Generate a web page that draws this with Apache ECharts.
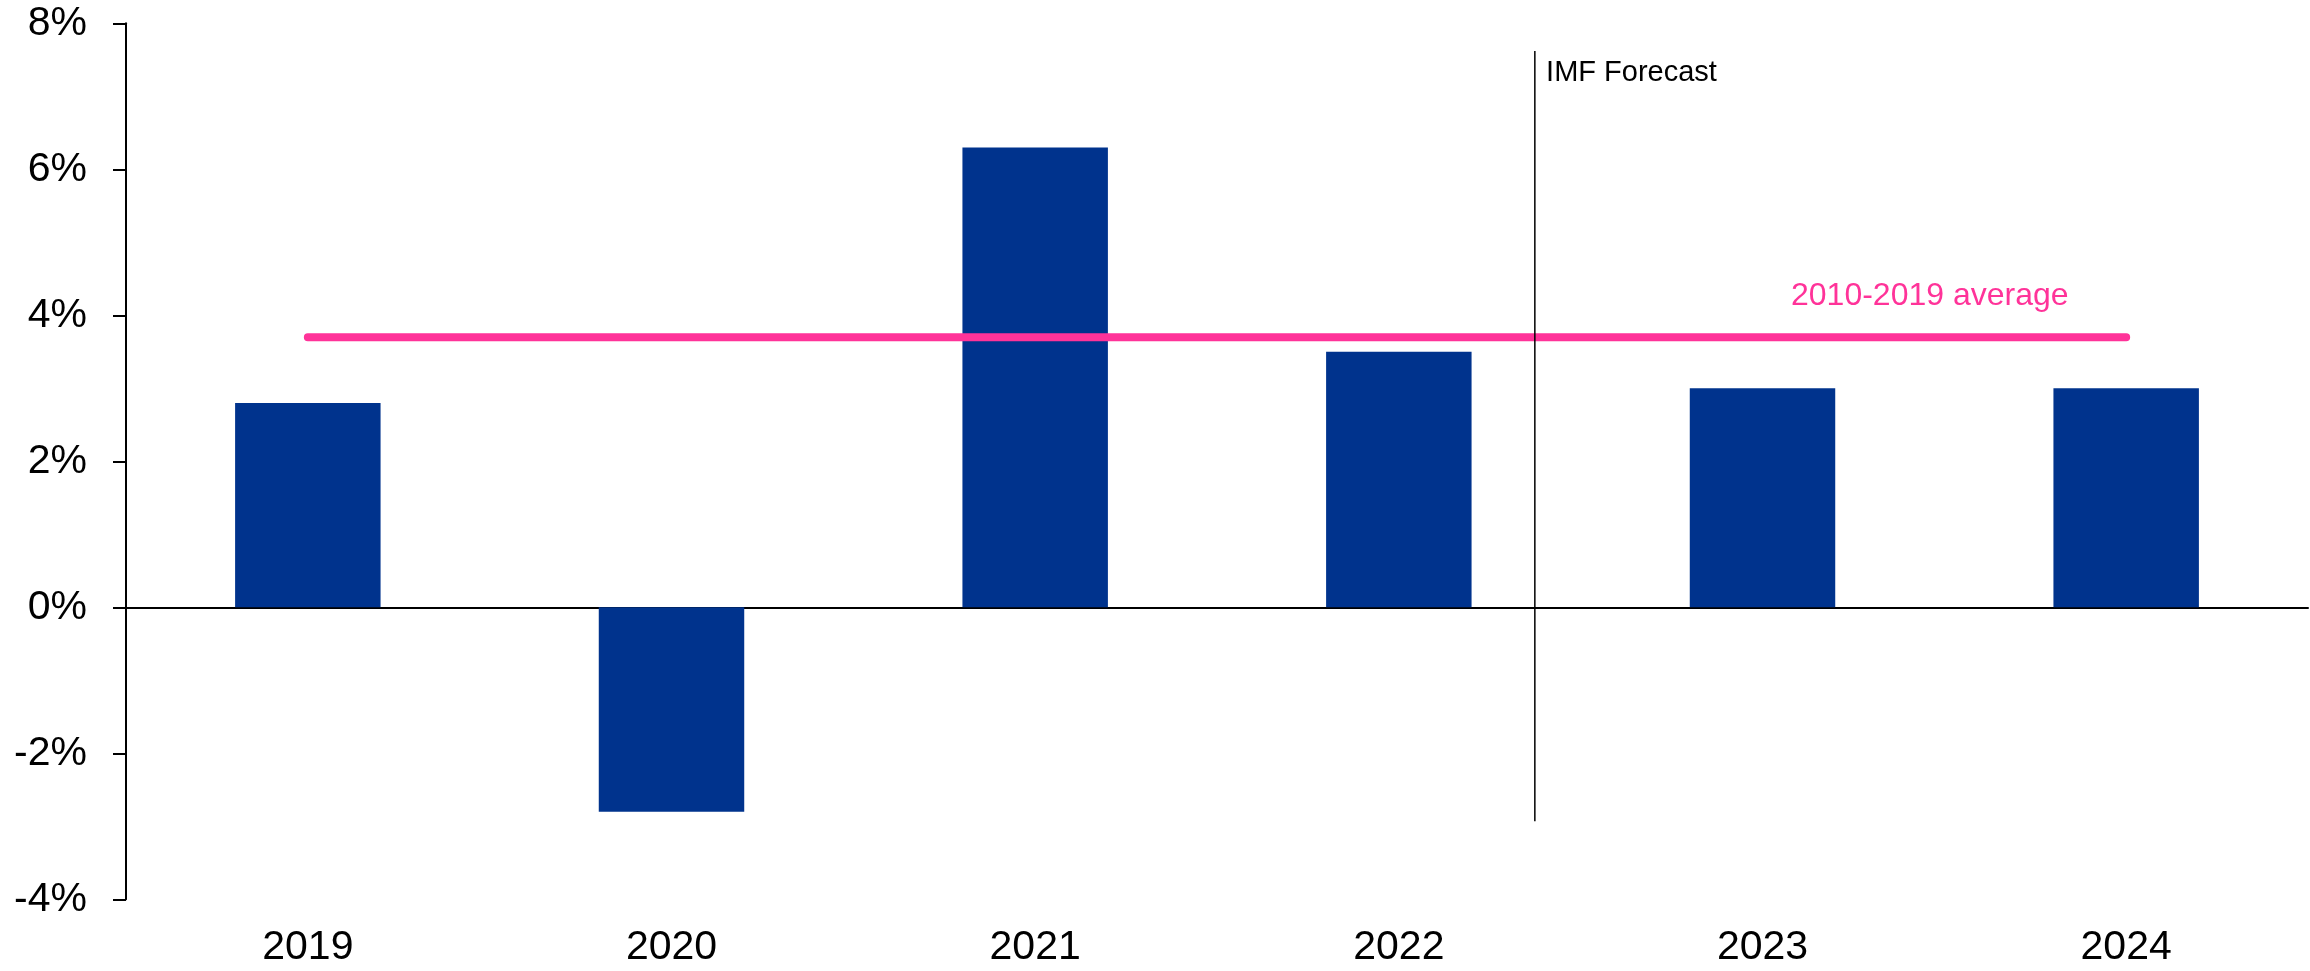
<!DOCTYPE html>
<html>
<head>
<meta charset="utf-8">
<title>GDP growth</title>
<script src="https://cdn.jsdelivr.net/npm/echarts@6/dist/echarts.min.js"></script>
<style>
  html, body { margin: 0; padding: 0; background: #ffffff; }
  #chart { width: 2310px; height: 971px; }
</style>
</head>
<body>
<div id="chart"></div>
<script>
// Annual growth, percent
const years = ['2019', '2020', '2021', '2022', '2023', '2024'];
const growth = [2.8, -2.8, 6.3, 3.5, 3.0, 3.0];
const average2010to2019 = [3.7, 3.7, 3.7, 3.7, 3.7, 3.7];
const yTicks = [-4, -2, 0, 2, 4, 6, 8];

const averageLabel = '2010-2019 average';
const forecastLabel = 'IMF Forecast';

const FONT = 'Arial, "Liberation Sans", Helvetica, sans-serif';
const BLUE = '#00338D';
const PINK = '#FF3399';

// Placement of annotations on a hidden 0..6 x scale spanning the categories
const FORECAST_X = 3.874;
const FORECAST_Y = [7.62, -2.93];
const FORECAST_TEXT_POS = [3.905, 7.32];
const AVERAGE_TEXT_POS = [4.96, 4.26];

const chart = echarts.init(document.getElementById('chart'), null, { renderer: 'canvas' });

chart.setOption({
  animation: false,
  backgroundColor: '#ffffff',
  grid: { left: 126, right: 2, top: 23.3, bottom: 71.7, containLabel: false },
  xAxis: [
    {
      type: 'category',
      data: years,
      axisLine: { onZero: true, lineStyle: { color: '#000000', width: 2 } },
      axisTick: { show: false },
      axisLabel: { fontFamily: FONT, fontSize: 41, color: '#000000', margin: 28, interval: 0 },
      splitLine: { show: false }
    },
    {
      type: 'value',
      min: 0, max: 6,
      show: false,
      splitLine: { show: false }
    }
  ],
  yAxis: {
    type: 'value',
    min: yTicks[0],
    max: yTicks[yTicks.length - 1],
    interval: 2,
    axisLine: { show: true, onZero: false, lineStyle: { color: '#000000', width: 2 } },
    axisTick: { show: true, length: 13, lineStyle: { color: '#000000', width: 2 } },
    axisLabel: {
      fontFamily: FONT, fontSize: 41, color: '#000000', margin: 39,
      formatter: v => v + '%'
    },
    splitLine: { show: false }
  },
  series: [
    {
      name: 'Growth',
      type: 'bar',
      data: growth,
      barWidth: '40%',
      itemStyle: { color: BLUE },
      z: 2
    },
    {
      name: averageLabel,
      type: 'line',
      data: average2010to2019,
      symbol: 'none',
      lineStyle: { color: PINK, width: 8, cap: 'round' },
      z: 3
    },
    {
      name: 'forecast divider',
      type: 'line',
      xAxisIndex: 1,
      data: [[FORECAST_X, FORECAST_Y[0]], [FORECAST_X, FORECAST_Y[1]]],
      symbol: 'none',
      lineStyle: { color: '#000000', width: 1.5 },
      z: 4
    },
    {
      name: 'annotations',
      type: 'scatter',
      xAxisIndex: 1,
      symbolSize: 0,
      silent: true,
      itemStyle: { opacity: 1 },
      data: [
        {
          value: FORECAST_TEXT_POS,
          label: {
            show: true, position: 'inside', align: 'left', verticalAlign: 'middle',
            formatter: forecastLabel, opacity: 1,
            fontFamily: FONT, fontSize: 29, color: '#000000'
          }
        },
        {
          value: AVERAGE_TEXT_POS,
          label: {
            show: true, position: 'inside', align: 'center', verticalAlign: 'middle',
            formatter: averageLabel, opacity: 1,
            fontFamily: FONT, fontSize: 32, color: PINK
          }
        }
      ],
      z: 5
    }
  ]
});
</script>
</body>
</html>
